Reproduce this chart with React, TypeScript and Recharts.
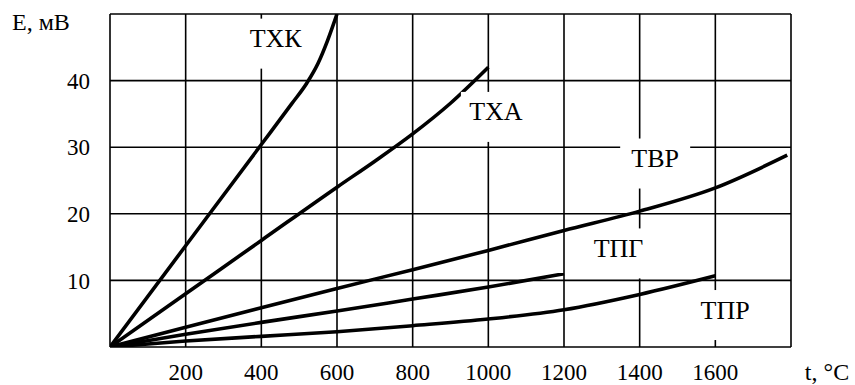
import React from 'react'
import { LineChart, Line, XAxis, YAxis, CartesianGrid, ReferenceDot } from 'recharts'

// temperature ticks, °C
const xTicks = [0, 200, 400, 600, 800, 1000, 1200, 1400, 1600, 1800]
// emf ticks, mV
const yTicks = [0, 10, 20, 30, 40, 50]

// thermocouple curves: [t, E]
const txk = [[0, 0], [200, 15.2], [400, 30.4], [480, 36.5], [520, 39.6], [550, 42.6], [575, 46], [600, 50]]
const txa = [[0, 0], [200, 8], [400, 16], [600, 24], [700, 27.9], [800, 32], [900, 36.6], [1000, 42]]
const tvr = [[0, 0], [200, 2.95], [400, 5.9], [600, 8.8], [800, 11.6], [1000, 14.5], [1200, 17.5], [1400, 20.4], [1600, 23.9], [1790, 28.8]]
const tpg = [[0, 0], [200, 1.9], [400, 3.7], [600, 5.4], [800, 7.2], [1000, 9.0], [1200, 11.0]]
const tpr = [[0, 0], [200, 0.9], [400, 1.6], [600, 2.3], [800, 3.2], [1000, 4.2], [1200, 5.6], [1400, 7.9], [1600, 10.7]]

// curve labels: name and where it sits [t, E]
const labelNames = ['ТХК', 'ТХА', 'ТВР', 'ТПГ', 'ТПР']
const labelPos = [[438, 46.3], [1020, 35.3], [1441, 28.3], [1344, 14.8], [1626, 5.55]]

const series = [txk, txa, tvr, tpg, tpr]
const FONT = 'Liberation Serif'

const toRows = (pts: number[][]) => pts.map(([t, e]) => ({ t, e }))

// label text on a white patch that breaks the grid behind it
const LabelBox = (props: any) => {
  const { cx, cy, text } = props
  return (
    <g>
      <rect x={cx - 35} y={cy - 20} width={70} height={50} fill="#fff" />
      <text x={cx} y={cy} textAnchor="middle" dominantBaseline="central" fill="#000" fontFamily={FONT} fontSize={26}>
        {text}
      </text>
    </g>
  )
}

const AxisTitle = (props: any) => {
  const { cx, cy, text, dx, dy, anchor } = props
  return (
    <text x={cx + dx} y={cy + dy} textAnchor={anchor} fill="#000" fontFamily={FONT} fontSize={24}>
      {text}
    </text>
  )
}

export default function App() {
  return (
    <div style={{ position: 'absolute', left: 0, top: 0, background: '#fff' }}>
      <LineChart width={855} height={385} margin={{ top: 14, right: 64, left: 20, bottom: 0 }}>
        <CartesianGrid stroke="#000" strokeWidth={1.6} />
        <XAxis
          type="number"
          dataKey="t"
          domain={[0, 1800]}
          ticks={xTicks}
          tickFormatter={(v) => (v === 0 || v === 1800 ? '' : String(v))}
          axisLine={false}
          tickLine={false}
          tickSize={6}
          tickMargin={11}
          height={38}
          tick={{ fill: '#000', fontFamily: FONT, fontSize: 23 }}
          allowDataOverflow
        />
        <YAxis
          type="number"
          domain={[0, 50]}
          ticks={yTicks}
          tickFormatter={(v) => (v === 0 || v === 50 ? '' : String(v))}
          axisLine={false}
          tickLine={false}
          tickSize={6}
          tickMargin={14}
          width={90}
          tick={{ fill: '#000', fontFamily: FONT, fontSize: 23 }}
          allowDataOverflow
        />
        {series.map((s, i) => (
          <Line
            key={labelNames[i]}
            data={toRows(s)}
            dataKey="e"
            type="monotone"
            stroke="#000"
            strokeWidth={3.6}
            dot={false}
            isAnimationActive={false}
          />
        ))}
        {labelNames.map((name, i) => (
          <ReferenceDot
            key={name}
            x={labelPos[i][0]}
            y={labelPos[i][1]}
            ifOverflow="visible"
            shape={(p: any) => <LabelBox {...p} text={name} />}
          />
        ))}
        <ReferenceDot x={0} y={50} ifOverflow="visible" shape={(p: any) => <AxisTitle {...p} text="E, мВ" dx={-98} dy={16} anchor="start" />} />
        <ReferenceDot x={1800} y={0} ifOverflow="visible" shape={(p: any) => <AxisTitle {...p} text="t, °C" dx={36} dy={33} anchor="middle" />} />
      </LineChart>
    </div>
  )
}
